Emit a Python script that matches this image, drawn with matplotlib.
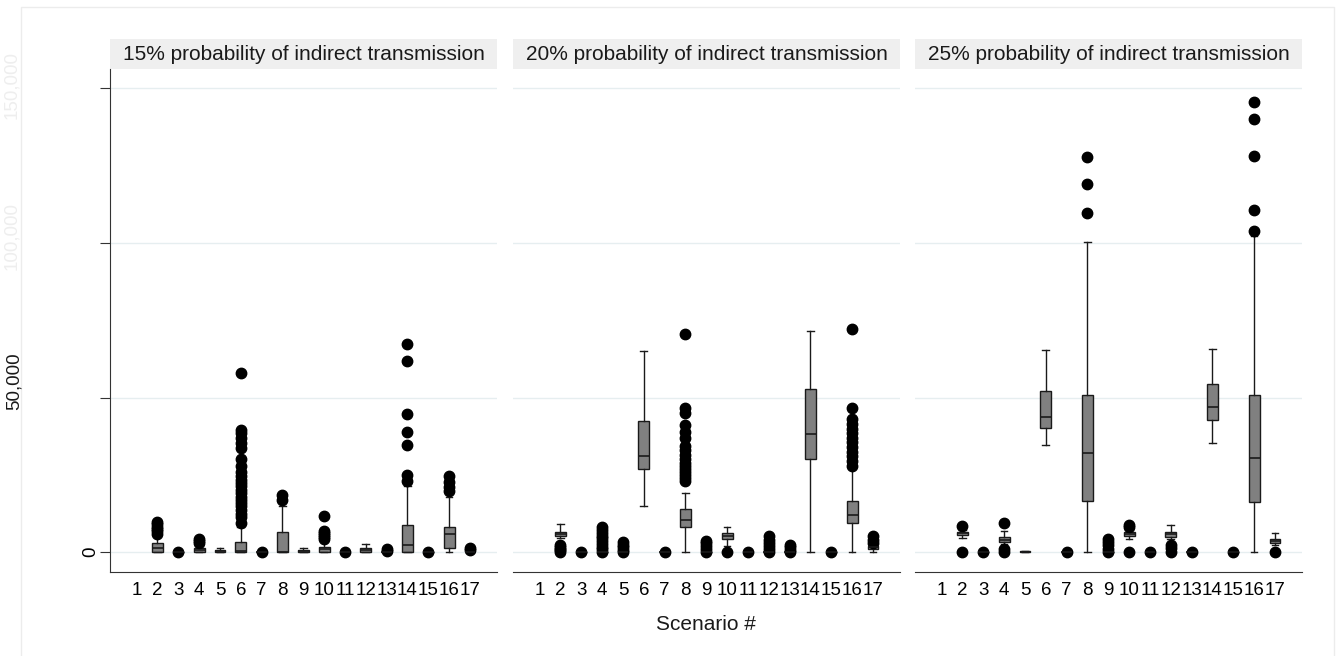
import numpy as np
import matplotlib.pyplot as plt
from matplotlib.patches import Rectangle

plt.rcParams['font.family'] = ['Liberation Sans', 'DejaVu Sans']

# scenarios 1..17, scenario 1 has no data (None)
scenarios = list(range(1, 18))
panel_titles = ['15% probability of indirect transmission',
                '20% probability of indirect transmission',
                '25% probability of indirect transmission']

# ---- 15% panel ----
q1_15 = [None, 0, 0, 0, 0, 0, 0, 0, 0, 0, 0, 0, 0, 0, 0, 1300, 0]
med_15 = [None, 1300, 0, 700, 300, 500, 0, 0, 300, 900, 0, 700, 0, 2200, 0, 5800, 0]
q3_15 = [None, 2900, 0, 1500, 700, 3300, 0, 6700, 700, 1600, 0, 1300, 0, 8800, 0, 8300, 0]
lo_15 = [None, 0, 0, 0, 0, 0, 0, 0, 0, 0, 0, 0, 0, 0, 0, 0, 0]
hi_15 = [None, 5600, 0, 2200, 1500, 8300, 0, 14800, 1300, 3800, 0, 2600, 0, 21300, 0, 18000, 0]
out_15 = [[], [6000, 6800, 7500, 8300, 9000, 9700], [200], [3000, 3600, 4300], [],
          [9500, 11500, 12500, 13700, 14800, 15900, 17000, 18000, 19100, 20200, 21300,
           22400, 23400, 24500, 26100, 28000, 30300, 33700, 35300, 36900, 38600, 39400, 58000],
          [200], [17000, 18500], [], [4300, 5000, 5600, 6200, 6800, 11800], [200], [],
          [400, 1000], [22900, 25000, 34700, 38800, 44800, 62000, 67200], [200],
          [19700, 21000, 22600, 24500], [600, 1300]]

# ---- 20% panel ----
q1_20 = [None, 5100, 0, 0, 0, 26900, 0, 8100, 0, 4200, 0, 0, 0, 30300, 0, 9600, 1000]
med_20 = [None, 5800, 0, 0, 0, 31000, 0, 10300, 0, 5300, 0, 0, 0, 38100, 0, 12100, 1600]
q3_20 = [None, 6500, 0, 0, 0, 42300, 0, 13900, 0, 6200, 0, 0, 0, 52900, 0, 16700, 2100]
lo_20 = [None, 4500, 0, 0, 0, 15100, 0, 0, 0, 2100, 0, 0, 0, 0, 0, 0, 0]
hi_20 = [None, 9100, 0, 0, 0, 65200, 0, 19300, 0, 8300, 0, 0, 0, 71700, 0, 27200, 2800]
out_20 = [[], [0, 600, 1200, 1800, 2400], [200],
          [0, 900, 1800, 2700, 3600, 4500, 5400, 6300, 7200, 8300],
          [0, 800, 1600, 2400, 3300], [], [200],
          [23000, 24000, 25000, 26000, 27000, 28000, 29000, 30000, 31500, 33000, 34500,
           37000, 39000, 41000, 45000, 46500, 70600],
          [0, 1000, 2000, 3000, 3500], [0], [200], [0, 1000, 2000, 3000, 4000, 5200],
          [0, 800, 1600, 2400], [], [200],
          [28000, 29500, 31000, 32500, 34000, 35500, 37000, 38500, 40000, 41500, 43000,
           46700, 72300],
          [3100, 4000, 5200]]

# ---- 25% panel ----
q1_25 = [None, 5600, 0, 3300, 0, 40300, 0, 16600, 0, 5300, 0, 5000, 0, 42800, 0, 16100, 3000]
med_25 = [None, 6100, 0, 4100, 0, 43600, 0, 32200, 0, 5900, 0, 5800, 0, 47100, 0, 30600, 3700]
q3_25 = [None, 6700, 0, 5000, 300, 52000, 0, 50700, 0, 6400, 0, 6700, 0, 54300, 0, 50700, 4400]
lo_25 = [None, 4700, 0, 2800, 0, 34800, 0, 0, 0, 4400, 0, 4400, 0, 35300, 0, 0, 2200]
hi_25 = [None, 7200, 0, 6900, 300, 65300, 0, 100400, 0, 7800, 0, 8700, 0, 65600, 0, 102200, 6100]
out_25 = [[], [0, 8600], [200], [0, 1000, 9300], [], [], [200],
          [109700, 119100, 127800], [0, 1200, 2200, 3200, 4200], [0, 8300, 8900], [200],
          [0, 1300, 2300], [200], [], [200],
          [103900, 110700, 128200, 140000, 145600], [0]]

panels = [(q1_15, med_15, q3_15, lo_15, hi_15, out_15),
          (q1_20, med_20, q3_20, lo_20, hi_20, out_20),
          (q1_25, med_25, q3_25, lo_25, hi_25, out_25)]

W, H = 1341, 656
fig = plt.figure(figsize=(W / 100, H / 100), dpi=100)

# light outer frame like the Stata graph region
fig.patches.append(Rectangle((21 / W, -0.01), (1334 - 21) / W, 1 - 7 / H + 0.01,
                             transform=fig.transFigure, fill=False,
                             edgecolor='#ececec', linewidth=1))

lefts = [110, 513, 915]
ax_w = 387
ax_top, ax_bot = 69, 572
strip_h = 30
gray = '#808080'
dark = '#1a1a1a'

for k in range(3):
    q1, med, q3, lo, hi, out = panels[k]
    ax = fig.add_axes([lefts[k] / W, 1 - ax_bot / H, ax_w / W, (ax_bot - ax_top) / H])
    stats = []
    pos = []
    for i, s in enumerate(scenarios):
        if q1[i] is None:
            continue
        stats.append(dict(q1=q1[i], med=med[i], q3=q3[i], whislo=lo[i],
                          whishi=hi[i], fliers=out[i]))
        pos.append(s)
    ax.bxp(stats, positions=pos, widths=0.52, patch_artist=True,
           showcaps=True, capwidths=0.32,
           boxprops=dict(facecolor=gray, edgecolor=dark, linewidth=1),
           medianprops=dict(color=dark, linewidth=1.2),
           whiskerprops=dict(color=dark, linewidth=1),
           capprops=dict(color=dark, linewidth=1),
           flierprops=dict(marker='o', markerfacecolor='black', markeredgecolor='black',
                           markersize=7.5))

    ax.set_xlim(-0.28, 18.3)
    ax.set_ylim(-6400, 156300)
    ax.set_xticks(scenarios)
    ax.set_xticklabels([str(s) for s in scenarios], fontsize=13.5)
    ax.tick_params(axis='x', length=0, pad=7)
    ax.set_yticks([0, 50000, 100000, 150000])
    ax.yaxis.grid(True, color='#e6eef0', linewidth=1)
    ax.set_axisbelow(True)
    for sp in ['top', 'right']:
        ax.spines[sp].set_visible(False)
    ax.spines['bottom'].set_color('#333333')
    if k == 0:
        ax.spines['left'].set_color('#333333')
        ax.set_yticklabels(['0', '', '', ''], fontsize=13.5, rotation=90, va='center')
        ax.tick_params(axis='y', length=7, pad=1, color='#333333')
    else:
        ax.spines['left'].set_visible(False)
        ax.tick_params(axis='y', length=0, labelleft=False)

    # strip header
    sh = strip_h / (ax_bot - ax_top)
    ax.add_patch(Rectangle((0, 1), 1, sh, transform=ax.transAxes, clip_on=False,
                           facecolor='#efefef', edgecolor='none'))
    ax.text(0.5, 1 + sh / 2, panel_titles[k], transform=ax.transAxes,
            ha='center', va='center', fontsize=15, color='#1a1a1a')

# misplaced y labels at the far left, as in the original render
fig.text(14 / W, 1 - 381 / H, '50,000', rotation=90, ha='center', va='center',
         fontsize=13.5, color='#1a1a1a')
fig.text(12 / W, 1 - 236 / H, '100,000', rotation=90, ha='center', va='center',
         fontsize=13.5, color='#eeeeee')
fig.text(12 / W, 1 - 85 / H, '150,000', rotation=90, ha='center', va='center',
         fontsize=13.5, color='#eeeeee')

fig.text(706 / W, 1 - 625 / H, 'Scenario #', ha='center', va='center',
         fontsize=15, color='#1a1a1a')

fig.savefig('out.png', dpi=100)
